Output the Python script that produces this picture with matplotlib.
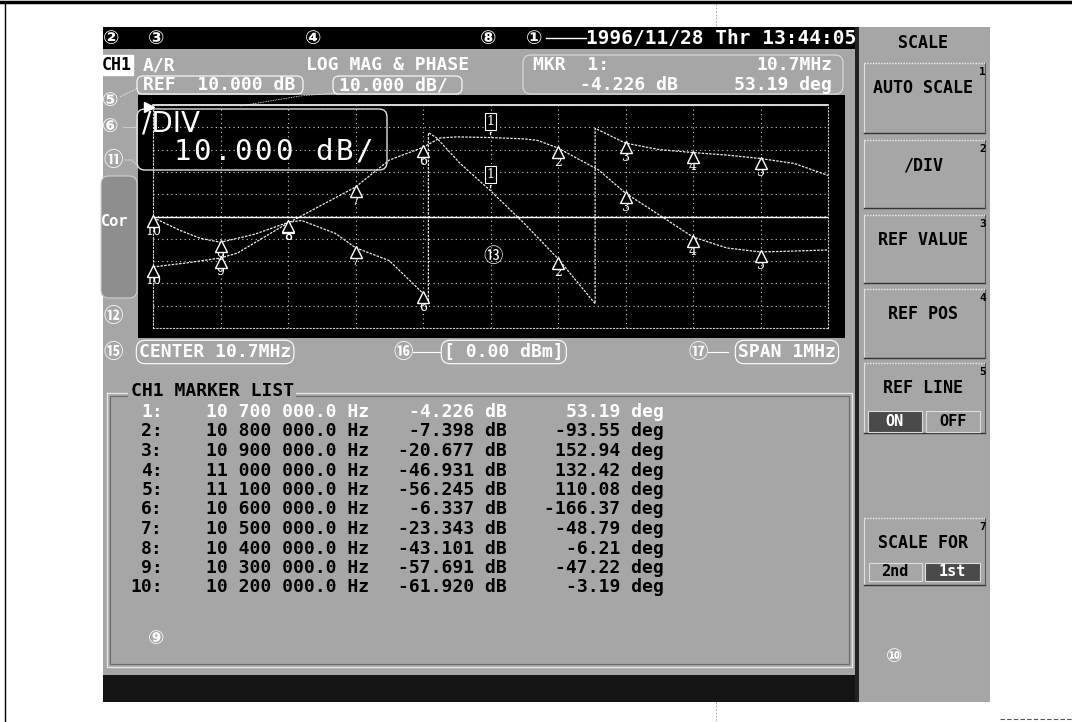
import matplotlib
matplotlib.use("Agg")
import matplotlib.pyplot as plt
from matplotlib.patches import Rectangle, FancyBboxPatch
from matplotlib.transforms import offset_copy
import numpy as np

plt.rcParams['font.family'] = ['DejaVu Sans Mono', 'Noto Sans CJK JP']

W, H = 1072, 722

# ---------------- data ----------------
# magnitude trace (dB), scale 10 dB/div, REF 10 dB at top line
freq_mag = [10.2, 10.25, 10.3, 10.325, 10.35, 10.4, 10.417, 10.5, 10.55, 10.6,
            10.625, 10.65, 10.7, 10.75, 10.77, 10.8, 10.86, 10.9, 10.95, 11.0,
            11.05, 11.1, 11.15, 11.2]
mag_db = [-62.6, -60.8, -58.6, -56.4, -51.9, -42.9, -40.2, -26.8, -14.7, -9.0,
          -4.8, -4.3, -4.6, -5.2, -5.9, -9.3, -19.1, -29.5, -39.3, -49.2,
          -54.1, -55.9, -55.5, -55.0]

# phase trace (deg), 45 deg/div, 0 deg at centre line, wraps at +-180
freq_ph = [10.2, 10.24, 10.27, 10.3, 10.35, 10.4, 10.42, 10.47, 10.5, 10.55,
           10.6, 10.608, 10.608, 10.62, 10.655, 10.7, 10.75, 10.8, 10.855, 10.855,
           10.9, 10.95, 11.0, 11.05, 11.1, 11.15, 11.2]
phase_deg = [-2, -28, -44, -52, -36, -12, -8, -34, -63, -89,
             -155, -176, 169, 159, 107, 52, -14, -85, -176, 178,
             148, 135, 129, 124, 117, 107, 83]

# marker list
marker_ids = [1, 2, 3, 4, 5, 6, 7, 8, 9, 10]
marker_hz = [10700000.0, 10800000.0, 10900000.0, 11000000.0, 11100000.0,
             10600000.0, 10500000.0, 10400000.0, 10300000.0, 10200000.0]
marker_mag = [-4.226, -7.398, -20.677, -46.931, -56.245,
              -6.337, -23.343, -43.101, -57.691, -61.920]
marker_phase = [53.19, -93.55, 152.94, 132.42, 110.08,
                -166.37, -48.79, -6.21, -47.22, -3.19]

softkeys = ["AUTO SCALE", "/DIV", "REF VALUE", "REF POS", "REF LINE", "", "SCALE FOR"]

GREY = '#a6a6a6'
MONO = ['DejaVu Sans Mono', 'Noto Sans CJK JP']
CIRC = ['DejaVu Sans', 'Noto Sans CJK JP']

fig = plt.figure(figsize=(W / 100, H / 100), dpi=100)
fig.patch.set_facecolor('white')

# background axes in pixel coordinates
bg = fig.add_axes([0, 0, 1, 1])
bg.set_xlim(0, W)
bg.set_ylim(H, 0)
bg.axis('off')
bg.set_zorder(0)


def box(a, x0, y0, x1, y1, fc, ec='none', lw=0.0, z=1):
    a.add_patch(Rectangle((x0, y0), x1 - x0, y1 - y0, fc=fc, ec=ec, lw=lw, zorder=z))


def txt(a, x, y, s, color='white', size=13, ha='left', bold=True, fam=MONO, z=5, **kw):
    a.text(x, y, s, color=color, fontsize=size, ha=ha, va='center',
           fontweight='bold' if bold else 'normal', family=fam, zorder=z, **kw)


def rbox(a, x0, y0, w, h, r=6, ec='white', lw=0.8, z=3):
    a.add_patch(FancyBboxPatch((x0, y0), w, h, boxstyle='round,pad=0,rounding_size=%d' % r,
                               fc='none', ec=ec, lw=lw, zorder=z))


# page border of the scan
bg.plot([0, W], [2, 2], color='black', lw=2.5)
bg.plot([5, 5], [2, H], color='black', lw=1.0)
bg.plot([1000, W], [719, 719], color='#555555', lw=0.8, ls=(0, (4, 2)))
bg.plot([716, 716], [4, 27], color='#999999', lw=0.6, ls=(0, (2, 2)))
bg.plot([716, 716], [702, H], color='#999999', lw=0.6, ls=(0, (2, 2)))

# main screen panels
box(bg, 103, 27, 990, 702, GREY)
box(bg, 103, 27, 857, 49, 'black')          # top status bar
box(bg, 138, 95, 845, 338, 'black')         # graph area
box(bg, 103, 675, 857, 702, '#141414')      # bottom strip
box(bg, 855, 27, 859, 702, '#222222')       # divider to softkeys

# top bar text
txt(bg, 103, 38, '②', size=14, fam=CIRC)
txt(bg, 148, 38, '③', size=14, fam=CIRC)
txt(bg, 305, 38, '④', size=14, fam=CIRC)
txt(bg, 480, 38, '⑧', size=14, fam=CIRC)
txt(bg, 526, 38, '①', size=14, fam=CIRC)
bg.plot([546, 586], [38, 38], color='white', lw=1.0)
txt(bg, 856, 38, '1996/11/28 Thr 13:44:05', size=14, ha='right')

# header lines
txt(bg, 102, 65, 'CH1', color='black', size=12,
    bbox=dict(boxstyle='square,pad=0.05', fc='white', ec='white'))
txt(bg, 143, 65, 'A/R')
txt(bg, 388, 65, 'LOG MAG & PHASE', ha='center')
txt(bg, 533, 65, 'MKR  1:')
txt(bg, 832, 65, '10.7MHz', ha='right')
rbox(bg, 137, 76, 166, 18)
txt(bg, 143, 85, 'REF  10.000 dB')
rbox(bg, 333, 76, 129, 18)
txt(bg, 339, 85, '10.000 dB/')
rbox(bg, 523, 55, 320, 39, r=8, ec='#dddddd')
txt(bg, 678, 85, '%.3f dB' % marker_mag[0], ha='right')
txt(bg, 832, 85, '%.2f deg' % marker_phase[0], ha='right')

# left column callouts
bg.add_patch(FancyBboxPatch((101, 176), 36, 122, boxstyle='round,pad=0,rounding_size=8',
                            fc='#8e8e8e', ec='#d0d0d0', lw=0.8, zorder=2))
txt(bg, 102, 101, '⑤', size=14, fam=CIRC)
txt(bg, 102, 127, '⑥', size=14, fam=CIRC)
txt(bg, 103, 160, '⑪', size=14, fam=CIRC)
txt(bg, 101, 222, 'Cor', size=11)
txt(bg, 103, 316, '⑫', size=14, fam=CIRC)
lead = dict(color='white', lw=0.6, ls=(0, (1, 1)), zorder=6)
bg.plot([120, 138], [97, 88], **lead)
bg.plot([123, 137], [127, 127], **lead)
bg.plot([125, 132, 137], [160, 160, 166], **lead)
bg.plot([335, 300, 240], [93, 96, 106], **lead)

# status line under the graph
txt(bg, 103, 352, '⑮', size=14, fam=CIRC)
txt(bg, 139, 352, 'CENTER 10.7MHz',
    bbox=dict(boxstyle='round,pad=0.15,rounding_size=0.5', fc='none', ec='white', lw=0.8))
txt(bg, 393, 352, '⑯', size=14, fam=CIRC)
bg.plot([413, 440], [352, 352], color='white', lw=0.8)
txt(bg, 444, 352, '[ 0.00 dBm]',
    bbox=dict(boxstyle='round,pad=0.15,rounding_size=0.5', fc='none', ec='white', lw=0.8))
txt(bg, 688, 352, '⑰', size=14, fam=CIRC)
bg.plot([708, 728], [352, 352], color='white', lw=0.8)
txt(bg, 738, 352, 'SPAN 1MHz',
    bbox=dict(boxstyle='round,pad=0.15,rounding_size=0.5', fc='none', ec='white', lw=0.8))

# marker list panel
bg.plot([107, 852, 852, 107, 107], [393, 393, 667, 667, 393], color='#e6e6e6', lw=1.0, zorder=2)
bg.plot([110, 849, 849, 110, 110], [396, 396, 664, 664, 396], color='#6a6a6a', lw=0.8, zorder=2)
box(bg, 128, 384, 296, 400, GREY, z=3)
txt(bg, 131, 391, 'CH1 MARKER LIST', color='black')
for i in range(len(marker_ids)):
    y = 412 + i * 19.5
    c = 'white' if i == 0 else 'black'
    f_str = '{:,}'.format(int(marker_hz[i])).replace(',', ' ') + ('%.1f' % marker_hz[i])[-2:] + ' Hz'
    txt(bg, 163, y, '%d:' % marker_ids[i], color=c, ha='right')
    txt(bg, 369, y, f_str, color=c, ha='right')
    txt(bg, 507, y, '%.3f dB' % marker_mag[i], color=c, ha='right')
    txt(bg, 664, y, '%.2f deg' % marker_phase[i], color=c, ha='right')
txt(bg, 148, 638, '⑨', size=14, fam=CIRC)

# softkey panel
txt(bg, 923, 43, 'SCALE', color='black', size=12, ha='center')
key_top = [63, 140, 215, 289, 363, 438, 518]
key_bot = [133, 208, 283, 358, 433, 510, 585]
for i, label in enumerate(softkeys):
    y0, y1 = key_top[i], key_bot[i]
    if i != 5:
        bg.plot([864, 985], [y0, y0], color='#f0f0f0', lw=1.0, ls=(0, (1, 1)))
        bg.plot([864, 864], [y0, y1], color='#e0e0e0', lw=0.8)
        bg.plot([864, 985], [y1, y1], color='#333333', lw=1.0)
        bg.plot([985, 985], [y0, y1], color='#555555', lw=0.8)
        txt(bg, 979, y0 + 9, str(i + 1), color='black', size=8)
    if label:
        txt(bg, 923, y0 + 25, label, color='black', size=12, ha='center')
# ON / OFF and 2nd / 1st toggles
box(bg, 868, 411, 922, 432, '#4a4a4a', ec='#dddddd', lw=0.8, z=2)
box(bg, 926, 411, 980, 432, GREY, ec='#dddddd', lw=0.8, z=2)
txt(bg, 895, 421, 'ON', size=11, ha='center')
txt(bg, 953, 421, 'OFF', color='black', size=11, ha='center')
box(bg, 869, 563, 922, 581, GREY, ec='#dddddd', lw=0.8, z=2)
box(bg, 925, 563, 980, 581, '#4a4a4a', ec='#dddddd', lw=0.8, z=2)
txt(bg, 895, 572, '2nd', color='black', size=11, ha='center')
txt(bg, 952, 572, '1st', size=11, ha='center')
txt(bg, 886, 657, '⑩', size=14, fam=CIRC)

# ---------------- graticule ----------------
ax = fig.add_axes([153 / W, 1 - 328 / H, 675 / W, 223 / H])
ax.set_zorder(1)
ax.patch.set_visible(False)
ax.set_xlim(10.2, 11.2)
ax.set_ylim(-90, 10)
ax.set_xticks(np.linspace(10.2, 11.2, 11))
ax.set_yticks(np.arange(-90, 11, 10))
ax.tick_params(length=0, labelbottom=False, labelleft=False)
ax.grid(color='#cfcfcf', lw=0.8, ls=(0, (1, 3)))
for s in ax.spines.values():
    s.set_color('#cfcfcf')
    s.set_linewidth(0.8)
    s.set_linestyle((0, (1, 2)))
ax.axhline(10, color='white', lw=1.2, clip_on=False)

ax2 = ax.twinx()
ax2.set_zorder(2)
ax2.patch.set_visible(False)
ax2.set_ylim(-225, 225)
ax2.tick_params(length=0, labelright=False)
for s in ax2.spines.values():
    s.set_visible(False)
ax2.axhline(0, color='white', lw=1.0)

trace_style = dict(color='#ececec', lw=0.9, ls=(0, (2, 1)))
ax.plot(freq_mag, mag_db, **trace_style)
ax2.plot(freq_ph, phase_deg, **trace_style)

marker_f = [h / 1e6 for h in marker_hz]


def draw_markers(a, ys):
    tri = offset_copy(a.transData, fig=fig, y=-4, units='dots')
    for k, f, v in zip(marker_ids, marker_f, ys):
        if k == 1:
            a.annotate('', xy=(f, v), xytext=(0, 8), textcoords='offset pixels',
                       arrowprops=dict(arrowstyle='-', color='white', lw=0.9))
            a.annotate('1', xy=(f, v), xytext=(0, 16), textcoords='offset pixels',
                       ha='center', va='center', color='white', fontsize=9, family='DejaVu Serif',
                       bbox=dict(boxstyle='square,pad=0.15', fc='black', ec='white', lw=0.8))
        else:
            a.plot([f], [v], marker='^', ms=8, mfc='black', mec='white', mew=1.0,
                   transform=tri, clip_on=False, zorder=4)
            a.annotate(str(k), xy=(f, v), xytext=(0, -14), textcoords='offset pixels',
                       ha='center', va='center', color='white', fontsize=9,
                       family='DejaVu Serif', annotation_clip=False)


draw_markers(ax, np.interp(marker_f, freq_mag, mag_db))
draw_markers(ax2, np.interp(marker_f, freq_ph, phase_deg))

# ---------------- overlay (DIV box, ref pointer) ----------------
ov = fig.add_axes([0, 0, 1, 1])
ov.set_zorder(3)
ov.patch.set_visible(False)
ov.set_xlim(0, W)
ov.set_ylim(H, 0)
ov.axis('off')
ov.add_patch(FancyBboxPatch((137, 109), 250, 61, boxstyle='round,pad=0,rounding_size=8',
                            fc='none', ec='#e0e0e0', lw=1.0))
ov.text(142, 123, '/DIV', color='white', fontsize=20, va='center', family='DejaVu Sans')
for j, ch in enumerate('10.000 dB/'):
    ov.text(182 + j * 20.3, 152, ch, color='white', fontsize=21, ha='center', va='center',
            family='DejaVu Sans Mono')
ov.plot([149], [107], marker='>', ms=7, color='white')
ov.text(493, 257, '⑬', color='white', fontsize=14, ha='center', va='center', family=CIRC)

fig.savefig('out.png', dpi=100)
